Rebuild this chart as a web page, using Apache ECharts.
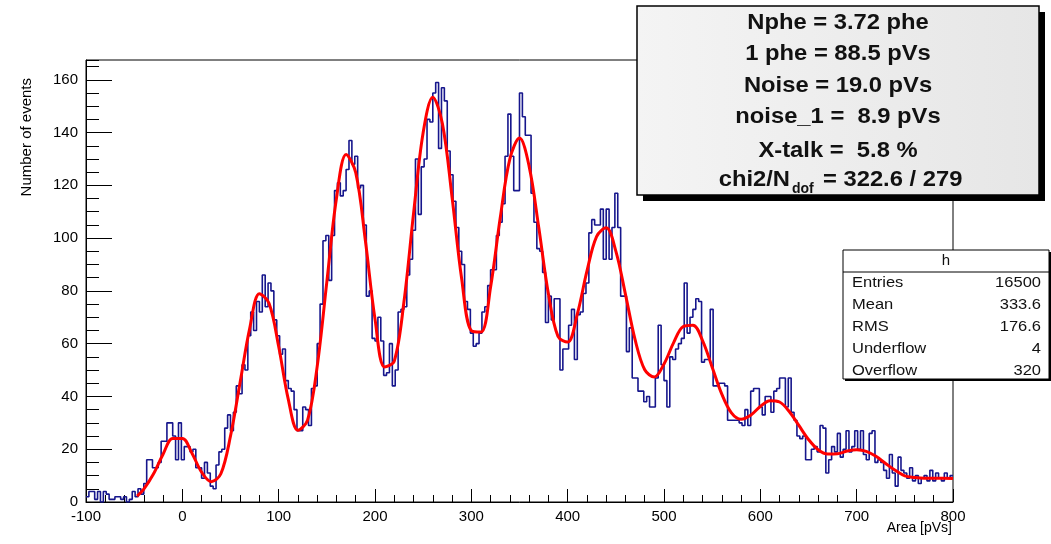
<!DOCTYPE html>
<html><head><meta charset="utf-8">
<script src="https://cdn.jsdelivr.net/npm/echarts@6/dist/echarts.min.js"></script>
<style>html,body{margin:0;padding:0;background:#fff}#c{width:1051px;height:544px}</style>
</head><body><div id="c"></div>
<script>
// ---- data ----
const binStart = -100;
const binWidth = 3;
const counts = [
 2,4,4,1,4,0,4,3,1,1,
 2,2,1,2,0,1,4,2,5,3,
 7,16,16,13,13,15,23,23,30,30,
 25,16,30,16,21,21,19,20,13,13,
 9,15,11,6,5,14,19,20,28,33,
 27,34,44,41,52,50,63,72,65,76,
 72,86,74,83,80,69,63,56,58,46,
 43,42,35,27,27,36,35,29,43,44,
 60,75,99,101,84,101,118,121,116,118,
 126,137,128,131,119,120,105,78,80,62,
 61,70,61,48,49,60,44,50,72,73,
 74,86,92,103,130,109,127,130,145,144,
 155,159,134,157,152,133,124,114,104,95,
 90,76,73,64,59,60,64,72,74,82,
 88,88,101,106,113,131,147,131,118,118,
 155,146,139,139,117,106,96,95,87,68,
 78,69,77,77,50,58,58,67,73,54,
 71,72,79,83,102,107,105,105,111,92,
 111,92,104,117,104,78,78,57,66,47,
 47,42,42,38,40,36,36,47,67,52,
 46,36,55,54,58,60,62,83,64,70,
 73,77,76,53,54,54,73,44,44,45,
 45,44,31,31,31,31,30,29,35,29,
 42,43,43,36,33,40,40,34,42,43,
 47,47,36,47,34,31,25,24,25,16,
 16,20,21,19,29,28,11,16,21,19,
 26,17,20,27,19,21,27,20,27,18,
 16,26,27,15,16,15,12,9,18,11,
 6,17,12,11,9,13,8,10,7,9,
 10,8,12,8,11,9,8,11,9,10
];
const fitX = [-47,-40,-30,-20,-10,0,10,20,30,40,50,60,70,80,90,100,110,120,130,140,150,160,170,180,190,200,
 210,220,230,240,250,260,270,280,290,300,310,320,330,340,350,360,370,380,390,400,410,420,430,440,450,
 460,470,480,490,500,510,520,530,540,550,560,570,580,590,600,610,620,630,640,650,660,670,680,690,700,
 710,720,730,740,750,760,770,780,790,800];
const fitY = [2.2,4.9,10.6,18.1,24.1,24.1,18.5,11.3,7.7,10.7,25,45.4,65.9,78.9,75.3,58.9,38.9,27.2,31,51.4,83.4,115.1,131.7,124.8,99.1,69.4,
 51.2,53.4,75.7,109.3,140,153.4,143.3,115.5,84.5,64.9,64.4,81.5,107.7,130,137.9,127.2,104,78.9,62.7,60.6,71.2,87.5,100.6,103.9,95.1,
 78.7,61.5,50.1,47.4,52.3,60.4,66.5,67,61.2,51.1,40.9,33.8,31.4,32.9,36.2,38.4,37.9,34.3,29,23.7,19.8,18.2,18.3,19.3,19.8,
 19.2,17.3,14.6,12,9.9,9.3,9.0,9.0,9.0,8.9];
const xTitle = 'Area [pVs]';
const yTitle = 'Number of events';
const fitLines = ['Nphe = 3.72 phe', '1 phe = 88.5 pVs', 'Noise = 19.0 pVs', 'noise_1 =  8.9 pVs', 'X-talk =  5.8 %'];
const chiParts = ['chi2/N', 'dof', '= 322.6 / 279'];
const statsTitle = 'h';
const statsLabels = ['Entries', 'Mean', 'RMS', 'Underflow', 'Overflow'];
const statsValues = ['16500', '333.6', '176.6', '4', '320'];

// ---- build ----
const histData = counts.map((c, k) => [binStart + k * binWidth, c]);
histData.push([binStart + counts.length * binWidth, counts[counts.length - 1]]);
const fitData = fitX.map((x, i) => [x, fitY[i]]);

const FONT = 'Liberation Sans, Arial, sans-serif';
const graphics = [];
// axis titles
graphics.push({type:'text', z:100, x:27, y:78, rotation:Math.PI/2,
  style:{text:yTitle, font:'15px '+FONT, fill:'#000', align:'right', verticalAlign:'middle'}});
graphics.push({type:'text', z:100, x:952, y:528,
  style:{text:xTitle, font:'14px '+FONT, fill:'#000', align:'right', verticalAlign:'middle'}});
// fit box
const fb = {x:637, y:6, w:402, h:189};
graphics.push({type:'rect', z:98, shape:{x:fb.x+6, y:fb.y+6, width:fb.w, height:fb.h}, style:{fill:'#000'}});
graphics.push({type:'rect', z:99, shape:{x:fb.x, y:fb.y, width:fb.w, height:fb.h},
  style:{fill:{type:'linear', x:0, y:0, x2:1, y2:0, colorStops:[{offset:0,color:'#f4f4f4'},{offset:1,color:'#e6e6e6'}]}, stroke:'#000', lineWidth:1.5}});
const fitYs = [23, 54, 86, 117, 151];
fitLines.forEach((t, i) => {
  graphics.push({type:'text', z:100, x:838, y:fitYs[i], scaleX:1.08,
    style:{text:t, font:'bold 22px '+FONT, fill:'#111', align:'center', verticalAlign:'middle'}});
});
graphics.push({type:'text', z:100, x:790, y:180, scaleX:1.08,
  style:{text:chiParts[0], font:'bold 22px '+FONT, fill:'#111', align:'right', verticalAlign:'middle'}});
graphics.push({type:'text', z:100, x:792, y:189,
  style:{text:chiParts[1], font:'bold 14px '+FONT, fill:'#111', align:'left', verticalAlign:'middle'}});
graphics.push({type:'text', z:100, x:823, y:180, scaleX:1.08,
  style:{text:chiParts[2], font:'bold 22px '+FONT, fill:'#111', align:'left', verticalAlign:'middle'}});
// stats box
const sb = {x:843, y:250, w:206, h:129};
graphics.push({type:'rect', z:98, shape:{x:sb.x+2, y:sb.y+2, width:sb.w, height:sb.h}, style:{fill:'#000'}});
graphics.push({type:'rect', z:99, shape:{x:sb.x, y:sb.y, width:sb.w, height:sb.h}, style:{fill:'#fff', stroke:'#000', lineWidth:1}});
graphics.push({type:'line', z:100, shape:{x1:sb.x, y1:272, x2:sb.x+sb.w, y2:272}, style:{stroke:'#000', lineWidth:1}});
graphics.push({type:'text', z:100, x:sb.x+sb.w/2, y:261,
  style:{text:statsTitle, font:'15px '+FONT, fill:'#111', align:'center', verticalAlign:'middle'}});
statsLabels.forEach((t, i) => {
  const y = 283 + i * 22;
  graphics.push({type:'text', z:100, x:852, y:y, scaleX:1.1,
    style:{text:t, font:'15px '+FONT, fill:'#111', align:'left', verticalAlign:'middle'}});
  graphics.push({type:'text', z:100, x:1041, y:y, scaleX:1.1,
    style:{text:statsValues[i], font:'15px '+FONT, fill:'#111', align:'right', verticalAlign:'middle'}});
});

const chart = echarts.init(document.getElementById('c'), null, {renderer:'canvas'});
chart.setOption({
  animation:false,
  backgroundColor:'#fff',
  grid:{left:86, right:98, top:60, bottom:42, show:true, borderColor:'#000', borderWidth:1, backgroundColor:'#fff'},
  xAxis:{type:'value', min:-100, max:800, interval:100,
    axisLine:{show:true, onZero:false, lineStyle:{color:'#000', width:1}},
    axisTick:{show:true, inside:true, length:13, lineStyle:{color:'#000', width:1}},
    minorTick:{show:true, splitNumber:5, length:7, lineStyle:{color:'#000', width:1}},
    axisLabel:{color:'#000', fontSize:15, fontFamily:FONT, margin:7, showMinLabel:true, showMaxLabel:true},
    splitLine:{show:false}, minorSplitLine:{show:false}},
  yAxis:[
    {type:'value', min:0, max:167.5, interval:20,
     axisLine:{show:true, onZero:false, lineStyle:{color:'#000', width:1}},
     axisTick:{show:true, inside:true, length:26, lineStyle:{color:'#000', width:1}},
     axisLabel:{color:'#000', fontSize:15, fontFamily:FONT, margin:8, showMaxLabel:false},
     splitLine:{show:false}},
    {type:'value', min:0, max:167.5, interval:5, position:'left',
     axisLine:{show:false, onZero:false},
     axisTick:{show:true, inside:true, length:13, lineStyle:{color:'#000', width:1}},
     axisLabel:{show:false}, splitLine:{show:false}}
  ],
  series:[
    {type:'line', name:'h', data:histData, step:'end', showSymbol:false, symbol:'none',
     lineStyle:{color:'#16168c', width:1.6}, z:2},
    {type:'line', name:'fit', data:fitData, smooth:0.35, showSymbol:false, symbol:'none',
     lineStyle:{color:'#ff0000', width:3}, z:3}
  ],
  graphic:graphics
});
</script>
</body></html>
